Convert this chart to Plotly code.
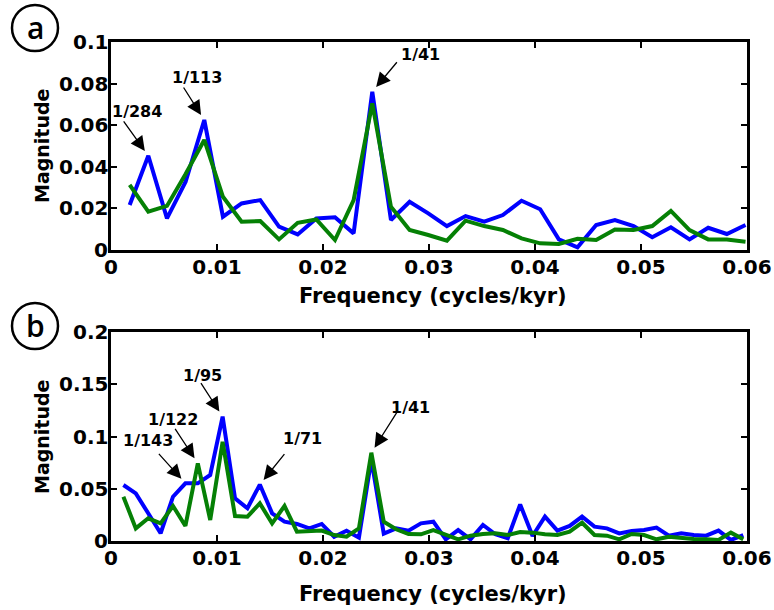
import plotly.graph_objects as go

# ---- spectral data -------------------------------------------------------
# (a) frequency grid and magnitudes of the two records
freq_a = [0.00176, 0.00352, 0.00528, 0.00704, 0.00880, 0.01056, 0.01232, 0.01408,
          0.01585, 0.01761, 0.01937, 0.02113, 0.02289, 0.02465, 0.02641, 0.02817,
          0.02993, 0.03169, 0.03345, 0.03521, 0.03697, 0.03873, 0.04049, 0.04225,
          0.04401, 0.04577, 0.04754, 0.04930, 0.05106, 0.05282, 0.05458, 0.05634,
          0.05810, 0.05986]
blue_a = [0.0216, 0.0453, 0.0152, 0.0328, 0.0625, 0.0160, 0.0224, 0.0240, 0.0112,
          0.0075, 0.0152, 0.0157, 0.0080, 0.0761, 0.0144, 0.0232, 0.0176, 0.0115,
          0.0163, 0.0136, 0.0168, 0.0237, 0.0196, 0.0051, 0.0013, 0.0120, 0.0144,
          0.0115, 0.0061, 0.0109, 0.0051, 0.0107, 0.0077, 0.0120]
green_a = [0.0313, 0.0184, 0.0212, 0.0365, 0.0529, 0.0256, 0.0136, 0.0139, 0.0051,
           0.0131, 0.0147, 0.0048, 0.0240, 0.0705, 0.0208, 0.0096, 0.0072, 0.0045,
           0.0141, 0.0115, 0.0096, 0.0056, 0.0032, 0.0029, 0.0054, 0.0048, 0.0099,
           0.0096, 0.0115, 0.0188, 0.0096, 0.0051, 0.0051, 0.0040]

# (b) frequency grid and magnitudes of the two records
freq_b = [0.00117, 0.00234, 0.00351, 0.00468, 0.00585, 0.00702, 0.00819, 0.00936,
          0.01053, 0.01170, 0.01287, 0.01404, 0.01520, 0.01637, 0.01754, 0.01871,
          0.01988, 0.02105, 0.02222, 0.02339, 0.02456, 0.02573, 0.02690, 0.02807,
          0.02924, 0.03041, 0.03158, 0.03275, 0.03392, 0.03509, 0.03626, 0.03743,
          0.03860, 0.03977, 0.04094, 0.04211, 0.04327, 0.04444, 0.04561, 0.04678,
          0.04795, 0.04912, 0.05029, 0.05146, 0.05263, 0.05380, 0.05497, 0.05614,
          0.05731, 0.05848, 0.05965]
blue_b = [0.0536, 0.0456, 0.0265, 0.0074, 0.0424, 0.0552, 0.0552, 0.0632, 0.1190,
          0.0408, 0.0313, 0.0540, 0.0265, 0.0185, 0.0163, 0.0121, 0.0163, 0.0041,
          0.0099, 0.0032, 0.0780, 0.0070, 0.0121, 0.0099, 0.0169, 0.0185, 0.0016,
          0.0105, 0.0016, 0.0153, 0.0064, 0.0026, 0.0350, 0.0048, 0.0233, 0.0099,
          0.0144, 0.0233, 0.0137, 0.0121, 0.0073, 0.0096, 0.0105, 0.0128, 0.0051,
          0.0073, 0.0057, 0.0051, 0.0099, 0.0010, 0.0057]
green_b = [0.0424, 0.0121, 0.0217, 0.0169, 0.0335, 0.0144, 0.0743, 0.0201, 0.0950,
           0.0239, 0.0233, 0.0360, 0.0169, 0.0335, 0.0089, 0.0093, 0.0100, 0.0057,
           0.0041, 0.0121, 0.0845, 0.0185, 0.0112, 0.0067, 0.0064, 0.0105, 0.0057,
           0.0016, 0.0051, 0.0067, 0.0073, 0.0057, 0.0085, 0.0080, 0.0064, 0.0057,
           0.0089, 0.0175, 0.0057, 0.0051, 0.0016, 0.0067, 0.0057, 0.0016, 0.0041,
           0.0026, 0.0019, 0.0016, 0.0010, 0.0080, 0.0016]

# axis ticks
x_ticks = [0, 0.01, 0.02, 0.03, 0.04, 0.05, 0.06]
x_ticktext = ["0", "0.01", "0.02", "0.03", "0.04", "0.05", "0.06"]
ya_ticks = [0, 0.02, 0.04, 0.06, 0.08, 0.1]
ya_ticktext = ["0", "0.02", "0.04", "0.06", "0.08", "0.1"]
yb_ticks = [0, 0.05, 0.1, 0.15, 0.2]
yb_ticktext = ["0", "0.05", "0.1", "0.15", "0.2"]

# labelled spectral peaks: (label, series, bin index)
peaks_a = [("1/284", "blue", 1), ("1/113", "blue", 4), ("1/41", "blue", 13)]
peaks_b = [("1/143", "blue", 5), ("1/122", "green", 6), ("1/95", "blue", 8),
           ("1/71", "blue", 11), ("1/41", "green", 20)]

# ---- figure ---------------------------------------------------------------
W, H = 774, 610
FONT = "DejaVu Sans"
BLUE = "#0000ff"
GREEN = "#058005"


def px_x(p):
    return p / W


def px_y(p):
    return (H - p) / H


fig = go.Figure()

series = {
    "a": (freq_a, {"blue": blue_a, "green": green_a}, "x", "y"),
    "b": (freq_b, {"blue": blue_b, "green": green_b}, "x2", "y2"),
}
for key, (fr, mags, xa, ya) in series.items():
    fig.add_trace(go.Scatter(x=fr, y=mags["blue"], mode="lines",
                             line=dict(color=BLUE, width=4),
                             xaxis=xa, yaxis=ya, showlegend=False, hoverinfo="skip"))
    fig.add_trace(go.Scatter(x=fr, y=mags["green"], mode="lines",
                             line=dict(color=GREEN, width=4),
                             xaxis=xa, yaxis=ya, showlegend=False, hoverinfo="skip"))

tick_font = dict(family=FONT, size=20, color="black", weight="bold")
x_dom = [px_x(111), px_x(747)]
axis_common = dict(
    showline=True, linecolor="black", linewidth=2.5, mirror="ticks",
    ticks="inside", ticklen=6, tickwidth=2, tickcolor="black",
    showgrid=False, zeroline=False, automargin=False, tickfont=tick_font,
)

fig.update_layout(
    width=W, height=H,
    margin=dict(l=0, r=0, t=0, b=0),
    paper_bgcolor="white", plot_bgcolor="white",
    xaxis=dict(domain=x_dom, range=[0, 0.06], anchor="y",
               tickvals=x_ticks, ticktext=x_ticktext, ticklabelstandoff=-3,
               **axis_common),
    yaxis=dict(domain=[px_y(250), px_y(42)], range=[0, 0.1], anchor="x",
               tickvals=ya_ticks, showticklabels=False, **axis_common),
    xaxis2=dict(domain=x_dom, range=[0, 0.06], anchor="y2",
                tickvals=x_ticks, ticktext=x_ticktext, ticklabelstandoff=-3,
                **axis_common),
    yaxis2=dict(domain=[px_y(541), px_y(332)], range=[0, 0.2], anchor="x2",
                tickvals=yb_ticks, showticklabels=False, **axis_common),
)

annotations = []

# y tick labels, set flush against the left axis line
for vals, texts, ya in ((ya_ticks, ya_ticktext, "y"), (yb_ticks, yb_ticktext, "y2")):
    for v, t in zip(vals, texts):
        annotations.append(dict(x=px_x(110), y=v, xref="paper", yref=ya, text=t,
                                showarrow=False, font=tick_font,
                                xanchor="right", yanchor="middle"))

label_font = dict(family=FONT, size=16, color="black", weight="bold")

# arrow tail (dx, dy) and text centre (tx, ty), in pixels from the peak
offsets_a = [(-25, -35, -11, 44), (-21, -33, -7, 43), (25, -30, 48, 37)]
offsets_b = [(-27, -30, -37, 43), (-23, -35, -25, 44), (-22, -34, -20, 41),
             (25, -31, 43, 46), (26, -41, 39, 45)]

for peaks, offs, key in ((peaks_a, offsets_a, "a"), (peaks_b, offsets_b, "b")):
    fr, mags, xa, ya = series[key]
    for (label, which, idx), (dx, dy, tx, ty) in zip(peaks, offs):
        xv, yv = fr[idx], mags[which][idx]
        annotations.append(dict(
            x=xv, y=yv, xref=xa, yref=ya, text="", showarrow=True,
            ax=dx, ay=dy, arrowhead=2, arrowsize=2.2, arrowwidth=1.3,
            arrowcolor="black", standoff=6, borderpad=0,
            font=dict(size=1)))
        annotations.append(dict(
            x=xv, y=yv, xref=xa, yref=ya, text=label, showarrow=False,
            xshift=tx, yshift=ty, font=label_font,
            xanchor="center", yanchor="middle"))

for yc in (146, 437):
    annotations.append(dict(x=px_x(42), y=px_y(yc), xref="paper", yref="paper",
                            text="Magnitude", textangle=-90, showarrow=False,
                            font=dict(family=FONT, size=19, color="black", weight="bold"),
                            xanchor="center", yanchor="middle"))
for yc in (296, 594):
    annotations.append(dict(x=px_x(433), y=px_y(yc), xref="paper", yref="paper",
                            text="Frequency (cycles/kyr)", showarrow=False,
                            font=dict(family=FONT, size=21, color="black", weight="bold"),
                            xanchor="center", yanchor="middle"))

# circled panel letters
shapes = []
for letter, cy in (("a", 28), ("b", 326)):
    shapes.append(dict(type="circle", xref="paper", yref="paper",
                       x0=px_x(12), x1=px_x(58), y0=px_y(cy + 23), y1=px_y(cy - 23),
                       line=dict(color="black", width=2.5)))
    annotations.append(dict(x=px_x(35), y=px_y(cy - 1), xref="paper", yref="paper",
                            text=letter, showarrow=False,
                            font=dict(family="Open Sans", size=30, color="black",
                                      weight=600),
                            xanchor="center", yanchor="middle"))

fig.update_layout(annotations=annotations, shapes=shapes)
fig.write_html("out.html")
